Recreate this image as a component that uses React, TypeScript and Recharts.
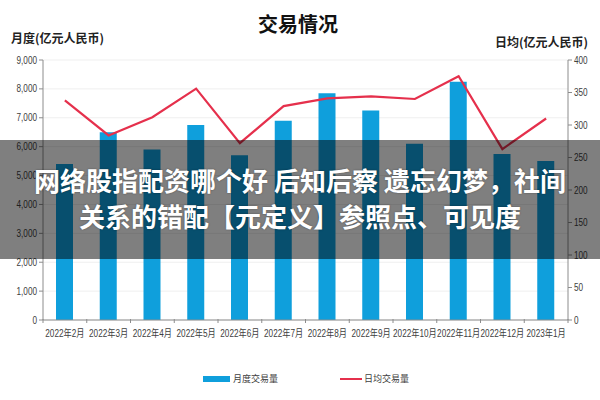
import React from 'react';
import {
  ComposedChart,
  Bar,
  Line,
  XAxis,
  YAxis,
  CartesianGrid,
  Legend,
} from 'recharts';

// =============================================================================
// DATA
// =============================================================================

const months = [
  '2022年2月', '2022年3月', '2022年4月', '2022年5月', '2022年6月', '2022年7月',
  '2022年8月', '2022年9月', '2022年10月', '2022年11月', '2022年12月', '2023年1月',
];
const monthlyVolume = [5400, 6500, 5900, 6750, 5700, 6900, 7850, 7250, 6100, 8250, 5750, 5500];
const dailyAverage = [338, 284, 312, 356, 272, 329, 341, 344, 340, 375, 263, 310];
const leftTicks = [0, 1000, 2000, 3000, 4000, 5000, 6000, 7000, 8000, 9000];
const rightTicks = [0, 50, 100, 150, 200, 250, 300, 350, 400];

const chartData = months.map((m, i) => ({
  month: m,
  volume: monthlyVolume[i],
  daily: dailyAverage[i],
}));

// =============================================================================
// STYLE
// =============================================================================

const WIDTH = 600;
const HEIGHT = 400;
const BAR_COLOR = '#0f9fdc';
const LINE_COLOR = '#e5304c';
const AXIS_COLOR = '#8c8c8c';
const TEXT_COLOR = '#404040';
const NUM_FONT = "'Liberation Sans', 'Noto Sans CJK SC', sans-serif";
const CJK_FONT = "'Noto Sans CJK SC', sans-serif";

const PLOT_LEFT = 43;
const PLOT_RIGHT = 568;
const BAND = (PLOT_RIGHT - PLOT_LEFT) / months.length;

// condensed tick label (the source uses a narrow face)
function NarrowText({ x, y, anchor, children }: any) {
  return (
    <text
      transform={`translate(${x},${y}) scale(0.82,1)`}
      textAnchor={anchor}
      fontSize={10}
      fill={TEXT_COLOR}
      fontFamily={NUM_FONT}
    >
      {children}
    </text>
  );
}

// category tick: label at center, tick mark at band boundary
function MonthTick({ x, payload, index }: any) {
  const axisY = 319;
  const isLast = index === months.length - 1;
  return (
    <g>
      <line x1={x - BAND / 2} x2={x - BAND / 2} y1={axisY} y2={axisY + 4} stroke={AXIS_COLOR} />
      {isLast && (
        <line x1={x + BAND / 2} x2={x + BAND / 2} y1={axisY} y2={axisY + 4} stroke={AXIS_COLOR} />
      )}
      <NarrowText x={x} y={axisY + 18} anchor="middle">
        {payload.value}
      </NarrowText>
    </g>
  );
}

function LeftTick({ x, y, payload }: any) {
  return (
    <NarrowText x={x} y={y + 3.5} anchor="end">
      {payload.value.toLocaleString('en-US')}
    </NarrowText>
  );
}

function RightTick({ x, y, payload }: any) {
  return (
    <NarrowText x={x} y={y + 3.5} anchor="start">
      {payload.value}
    </NarrowText>
  );
}

function renderLegend() {
  return (
    <div
      style={{
        display: 'flex',
        justifyContent: 'center',
        gap: 62,
        paddingLeft: 12,
        fontFamily: CJK_FONT,
        fontSize: 9,
        color: TEXT_COLOR,
      }}
    >
      <div style={{ display: 'flex', alignItems: 'center' }}>
        <span style={{ width: 27, height: 6, background: BAR_COLOR, marginRight: 3 }} />
        月度交易量
      </div>
      <div style={{ display: 'flex', alignItems: 'center' }}>
        <span style={{ width: 22, height: 2, background: LINE_COLOR, marginRight: 2 }} />
        日均交易量
      </div>
    </div>
  );
}

// =============================================================================
// COMPONENT
// =============================================================================

export default function App() {
  return (
    <div
      style={{
        position: 'absolute',
        left: 0,
        top: 0,
        width: WIDTH,
        height: HEIGHT,
        background: '#fff',
        overflow: 'hidden',
      }}
    >
      <ComposedChart
        width={WIDTH}
        height={HEIGHT}
        data={chartData}
        margin={{ top: 60, right: 0, bottom: 42, left: 0 }}
      >
        <CartesianGrid yAxisId="left" vertical={false} stroke="#efefef" />
        <XAxis
          dataKey="month"
          stroke={AXIS_COLOR}
          tickLine={false}
          interval={0}
          height={25}
          tick={<MonthTick />}
        />
        <YAxis
          yAxisId="left"
          domain={[0, 9000]}
          ticks={leftTicks}
          width={43}
          stroke={AXIS_COLOR}
          tickSize={4}
          tick={<LeftTick />}
        />
        <YAxis
          yAxisId="right"
          orientation="right"
          domain={[0, 400]}
          ticks={rightTicks}
          width={32}
          stroke={AXIS_COLOR}
          tickSize={4}
          tick={<RightTick />}
        />
        <Bar
          yAxisId="left"
          dataKey="volume"
          name="月度交易量"
          fill={BAR_COLOR}
          barSize={17}
          isAnimationActive={false}
        />
        <Line
          yAxisId="right"
          dataKey="daily"
          name="日均交易量"
          type="linear"
          stroke={LINE_COLOR}
          strokeWidth={2.2}
          dot={false}
          isAnimationActive={false}
        />
        <Legend
          content={renderLegend}
          wrapperStyle={{ top: 372, left: 0, width: WIDTH }}
        />
        <text
          x={298}
          y={32}
          textAnchor="middle"
          fontSize={20}
          fontWeight="bold"
          fill="#111"
          fontFamily={CJK_FONT}
        >
          交易情况
        </text>
        <text x={11} y={43} fontSize={12} fontWeight="bold" fill="#222" fontFamily={CJK_FONT}>
          月度(亿元人民币)
        </text>
        <text
          x={588}
          y={47}
          textAnchor="end"
          fontSize={12}
          fontWeight="bold"
          fill="#222"
          fontFamily={CJK_FONT}
        >
          日均(亿元人民币)
        </text>
      </ComposedChart>

      {/* caption band laid over the picture */}
      <div
        style={{
          position: 'absolute',
          left: 0,
          top: 140,
          width: WIDTH,
          height: 119,
          background: 'rgba(0,0,0,0.5)',
          color: '#fff',
          fontFamily: CJK_FONT,
          fontWeight: 'bold',
          fontSize: 26,
          lineHeight: '36px',
          textAlign: 'center',
          paddingTop: 22,
          boxSizing: 'border-box',
          textShadow: '0 0 2px rgba(0,0,0,0.4)',
        }}
      >
        <div>网络股指配资哪个好 后知后察 遗忘幻梦，社间</div>
        <div>关系的错配【元定义】参照点、可见度</div>
      </div>
    </div>
  );
}
